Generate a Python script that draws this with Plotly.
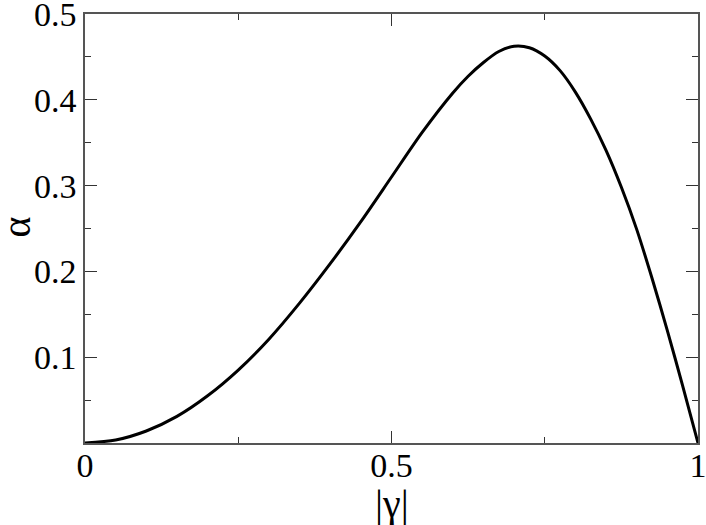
import plotly.graph_objects as go

gamma = [0.0, 0.05, 0.10, 0.15, 0.20, 0.25, 0.30, 0.35, 0.40, 0.45, 0.50,
         0.55, 0.60, 0.625, 0.65, 0.675, 0.70, 0.725, 0.75, 0.775, 0.80, 0.825,
         0.85, 0.875, 0.90, 0.925, 0.95, 0.975, 1.0]
alpha = [0.0, 0.0035, 0.014, 0.031, 0.055, 0.085, 0.121, 0.163, 0.209, 0.258, 0.310,
         0.362, 0.408, 0.4275, 0.4435, 0.4563, 0.4624, 0.4607, 0.451, 0.434, 0.409, 0.3775,
         0.341, 0.298, 0.249, 0.192, 0.131, 0.0666, 0.0]

x_ticks = [0, 0.5, 1]
x_labels = ["0", "0.5", "1"]
x_minor = [0.25, 0.75]
y_ticks = [0.1, 0.2, 0.3, 0.4, 0.5]
y_labels = ["0.1", "0.2", "0.3", "0.4", "0.5"]
y_minor = [0.05, 0.15, 0.25, 0.35, 0.45]
x_title = "|γ|"
y_title = "α"

FONT = "Liberation Serif"

fig = go.Figure()
fig.add_trace(go.Scatter(x=gamma, y=alpha, mode="lines",
                         line=dict(color="black", width=3, shape="spline", smoothing=0.8),
                         showlegend=False, hoverinfo="skip", cliponaxis=False))

axis_common = dict(
    showgrid=False, zeroline=False, showline=True, linecolor="#555555", linewidth=1.6,
    mirror="ticks", ticks="inside", ticklen=12, tickwidth=1.2, tickcolor="#333",
    tickfont=dict(family=FONT, size=34, color="black"), automargin=False,
    ticklabeloverflow="allow",
)

fig.update_xaxes(range=[0, 1], tickmode="array", tickvals=x_ticks, ticktext=x_labels,
                 minor=dict(tickmode="array", tickvals=x_minor, ticks="inside", ticklen=6,
                            tickwidth=1.2, tickcolor="#333"),
                 ticklabelstandoff=-9, **axis_common)
fig.update_yaxes(range=[0, 0.5], tickmode="array", tickvals=y_ticks, ticktext=y_labels,
                 minor=dict(tickmode="array", tickvals=y_minor, ticks="inside", ticklen=6,
                            tickwidth=1.2, tickcolor="#333"),
                 **axis_common)

fig.add_annotation(text=x_title, xref="paper", yref="paper", x=0.5, y=-0.141,
                   xanchor="center", yanchor="middle", showarrow=False,
                   font=dict(family=FONT, size=40, color="black"))
fig.add_annotation(text=y_title, xref="paper", yref="paper", x=-0.112, y=0.503,
                   xanchor="center", yanchor="middle", showarrow=False, textangle=-90,
                   font=dict(family=FONT, size=40, color="black"))

fig.update_layout(width=706, height=525, margin=dict(l=85, r=8, t=14, b=82, autoexpand=False),
                  plot_bgcolor="white", paper_bgcolor="white")

fig.write_html("out.html", config={"displayModeBar": False},
               post_script="document.body.style.margin='0';document.body.style.overflow='hidden';")
